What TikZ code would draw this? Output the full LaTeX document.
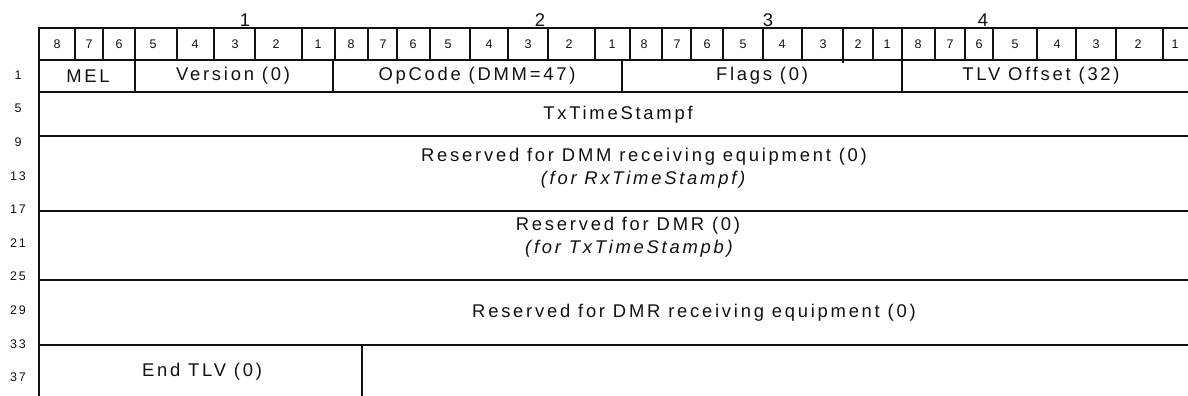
\documentclass[tikz,border=0pt]{standalone}
\usepackage{fontspec}
\setmainfont{Liberation Sans}[LetterSpace=15]
\usepackage{xcolor}
\usepackage{tikz}
\definecolor{ink}{HTML}{111111}
\tikzset{
  cellline/.style={draw=ink,line width=1.7pt},
  field/.style={font=\fontsize{18.4}{21}\selectfont,text=ink,inner sep=0pt},
  fieldnote/.style={field,font=\fontsize{18.4}{21}\selectfont\itshape},
  bytenum/.style={field},
  bitnum/.style={font=\fontsize{12.5}{14}\selectfont,text=ink,inner sep=0pt},
  rownum/.style={bitnum}
}
\begin{document}
\begin{tikzpicture}[x=1pt,y=-1pt]
  \useasboundingbox (0,0) rectangle (1188,396);
  \draw[cellline] (1188,28)--(39,28)--(39,396);
  \draw[cellline] (39,60)--(1188,60);
  \draw[cellline] (39,92)--(1188,92);
  \draw[cellline] (39,136)--(1188,136);
  \draw[cellline] (39,211)--(1188,211);
  \draw[cellline] (39,280)--(1188,280);
  \draw[cellline] (39,345)--(1188,345);
  \draw[cellline] (362,345)--(362,396);
  \draw[cellline] (75,28)--(75,60) (103,28)--(103,60) (135,28)--(135,60) (177,28)--(177,60)
    (214,28)--(214,60) (255,28)--(255,60) (302,28)--(302,60) (335,28)--(335,60)
    (368,28)--(368,60) (397,28)--(397,60) (430,28)--(430,60) (470,28)--(470,60)
    (508,28)--(508,60) (548,28)--(548,60) (595,28)--(595,60) (630,28)--(630,60)
    (662,28)--(662,60) (691,28)--(691,60) (723,28)--(723,60) (763,28)--(763,60)
    (802,28)--(802,60) (843,28)--(843,63) (873,28)--(873,60) (902,28)--(902,60)
    (935,28)--(935,60) (965,28)--(965,60) (993,28)--(993,60) (1037,28)--(1037,60)
    (1076,28)--(1076,60) (1116,28)--(1116,60) (1163,28)--(1163,60);
  \draw[cellline] (135,60)--(135,92) (333,60)--(333,92) (622,60)--(622,92) (902,60)--(902,92);

  \node[bytenum] (byte1) at (245,20) {1};
  \node[bytenum] (byte2) at (540,20) {2};
  \node[bytenum] (byte3) at (768,20) {3};
  \node[bytenum] (byte4) at (983,20) {4};

  \node[bitnum] (b18) at (57,44) {8};
  \node[bitnum] (b17) at (89,44) {7};
  \node[bitnum] (b16) at (119,44) {6};
  \node[bitnum] (b15) at (153,44) {5};
  \node[bitnum] (b14) at (195,44) {4};
  \node[bitnum] (b13) at (235,44) {3};
  \node[bitnum] (b12) at (276,44) {2};
  \node[bitnum] (b11) at (318,44) {1};
  \node[bitnum] (b28) at (351,44) {8};
  \node[bitnum] (b27) at (383,44) {7};
  \node[bitnum] (b26) at (413,44) {6};
  \node[bitnum] (b25) at (448,44) {5};
  \node[bitnum] (b24) at (489,44) {4};
  \node[bitnum] (b23) at (528,44) {3};
  \node[bitnum] (b22) at (569,44) {2};
  \node[bitnum] (b21) at (612,44) {1};
  \node[bitnum] (b38) at (644,44) {8};
  \node[bitnum] (b37) at (677,44) {7};
  \node[bitnum] (b36) at (707,44) {6};
  \node[bitnum] (b35) at (743,44) {5};
  \node[bitnum] (b34) at (782,44) {4};
  \node[bitnum] (b33) at (823,44) {3};
  \node[bitnum] (b32) at (858,44) {2};
  \node[bitnum] (b31) at (887,44) {1};
  \node[bitnum] (b48) at (918,44) {8};
  \node[bitnum] (b47) at (950,44) {7};
  \node[bitnum] (b46) at (979,44) {6};
  \node[bitnum] (b45) at (1015,44) {5};
  \node[bitnum] (b44) at (1057,44) {4};
  \node[bitnum] (b43) at (1096,44) {3};
  \node[bitnum] (b42) at (1138,44) {2};
  \node[bitnum] (b41) at (1175,44) {1};

  \node[rownum] (row1) at (18,75) {1};
  \node[rownum] (row5) at (18,108.6) {5};
  \node[rownum] (row9) at (18,142.2) {9};
  \node[rownum] (row13) at (18,175.8) {13};
  \node[rownum] (row17) at (18,209.4) {17};
  \node[rownum] (row21) at (18,243) {21};
  \node[rownum] (row25) at (18,276.6) {25};
  \node[rownum] (row29) at (18,310.2) {29};
  \node[rownum] (row33) at (18,343.8) {33};
  \node[rownum] (row37) at (18,377.4) {37};

  \node[field] (mel) at (88,76) {MEL};
  \node[field] (version) at (233,76) {Version (0)};
  \node[field] (opcode) at (477,76) {OpCode (DMM=47)};
  \node[field] (flags) at (762,76) {Flags (0)};
  \node[field] (tlvoffset) at (1041,76) {TLV Offset (32)};
  \node[field] (txstampf) at (618,115) {TxTimeStampf};
  \node[field] (dmmrecv) at (644,157) {Reserved for DMM receiving equipment (0)};
  \node[fieldnote] (dmmrecvnote) at (643,180) {(for RxTimeStampf)};
  \node[field] (dmr) at (628,226) {Reserved for DMR (0)};
  \node[fieldnote] (dmrnote) at (629,249) {(for TxTimeStampb)};
  \node[field] (dmrrecv) at (694,313) {Reserved for DMR receiving equipment (0)};
  \node[field] (endtlv) at (202,372) {End TLV (0)};
\end{tikzpicture}
\end{document}
